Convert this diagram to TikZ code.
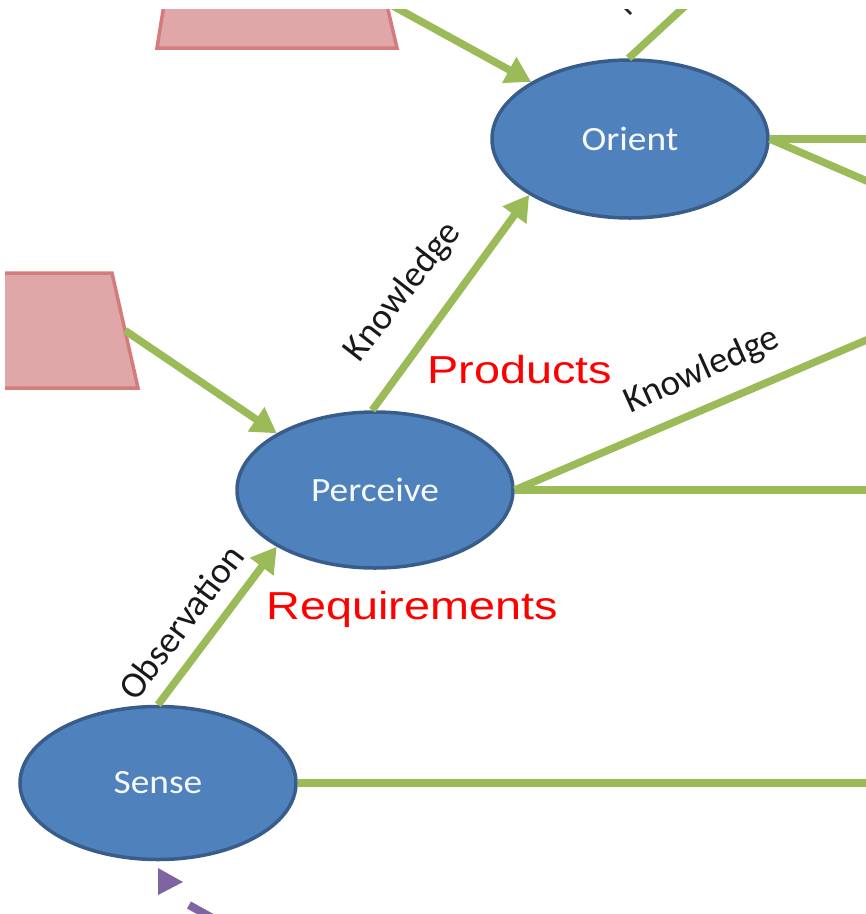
\documentclass[tikz,border=0pt]{standalone}
\usepackage{fontspec}
\setmainfont{Carlito}
\newfontfamily\redfont{Liberation Sans}
\usetikzlibrary{arrows.meta,shapes.geometric}
\definecolor{ooGreen}{HTML}{9BBB59}
\definecolor{ooBlue}{HTML}{4F81BD}
\definecolor{ooBlueEdge}{HTML}{385D8A}
\definecolor{ooPink}{HTML}{DFA7A7}
\definecolor{ooPinkEdge}{HTML}{D47C7C}
\definecolor{ooPurple}{HTML}{8064A2}
\newcommand\stagetext[1]{\scalebox{1.1}[1]{#1}}
\newcommand\notetext[1]{\scalebox{1.2}[1]{#1}}

\begin{document}
\begin{tikzpicture}[x=1pt,y=-1pt,
  stage/.style={ellipse, draw=ooBlueEdge, line width=3.5pt, fill=ooBlue,
    minimum width=276pt, inner sep=0pt, text=white!95!ooBlue,
    font=\fontsize{34}{40}\selectfont},
  flow/.style={draw=ooGreen, line width=7.5pt},
  flowarr/.style={flow, -{Triangle[length=25pt,width=28pt]}},
  edgelabel/.style={font=\fontsize{37}{42}\selectfont, text=black!90, inner sep=0pt},
  note/.style={font=\redfont\fontsize{39}{44}\selectfont, text=red, inner sep=0pt, anchor=base},
  inbox/.style={fill=ooPink, draw=ooPinkEdge, line width=3.5pt}]

\useasboundingbox (0,0) rectangle (866,914);
\begin{scope}
\clip (5,9) rectangle (866,914);

% input boxes
\path[inbox] (168,-20) -- (381,-20) -- (397,48) -- (157,48) -- cycle;
\path[inbox] (-20,273) -- (112,273) -- (138,388) -- (-20,388) -- cycle;
\coordinate (topin) at (373,-5);
\coordinate (leftout) at (125,330.5);

% stages
\node[stage, minimum height=158pt] (orient) at (630,139) {\stagetext{Orient}};
\node[stage, minimum height=156pt] (perc) at (375,490) {\stagetext{Perceive}};
\node[stage, minimum height=153pt] (sense) at (158,783) {\stagetext{Sense}};

% outgoing ends
\coordinate (oUp) at (697,-5);
\coordinate (oR1) at (890,139);
\coordinate (oR2) at (890,191);
\coordinate (pR1) at (890,330);
\coordinate (pR2) at (890,490);
\coordinate (sR) at (890,783);

% connectors
\draw[flowarr] (topin) -- (orient.150.3);
\draw[flowarr] (leftout) -- (perc.150.4);
\draw[flowarr] (perc.92) -- (orient.209.2);
\draw[flowarr] (sense.north) -- (perc.210);
\draw[flow] (orient.91) -- (oUp);
\draw[flow] (orient.east) -- (oR1);
\draw[flow] (orient.east) -- (oR2);
\draw[flow] (perc.east) -- (pR1);
\draw[flow] (perc.east) -- (pR2);
\draw[flow] (sense.east) -- (sR);

% connector labels
\node[edgelabel, rotate=52] (k1) at (403,292) {Knowledge};
\node[edgelabel, rotate=24] (k2) at (702,371) {Knowledge};
\node[edgelabel, rotate=53] (obs) at (181,622) {Observation};
\draw[line width=2.5pt, black!85] (625,8) -- (631,14);

% notes
\node[note] (prod) at (520,383) {\notetext{Products}};
\node[note] (req) at (412,619) {\notetext{Requirements}};

% incoming dashed arrow at the bottom
\fill[ooPurple] (158,868) -- (183,882) -- (158,895) -- cycle;
\draw[ooPurple, line width=8pt] (189,905) -- (216,920);
\end{scope}
\end{tikzpicture}
\end{document}
